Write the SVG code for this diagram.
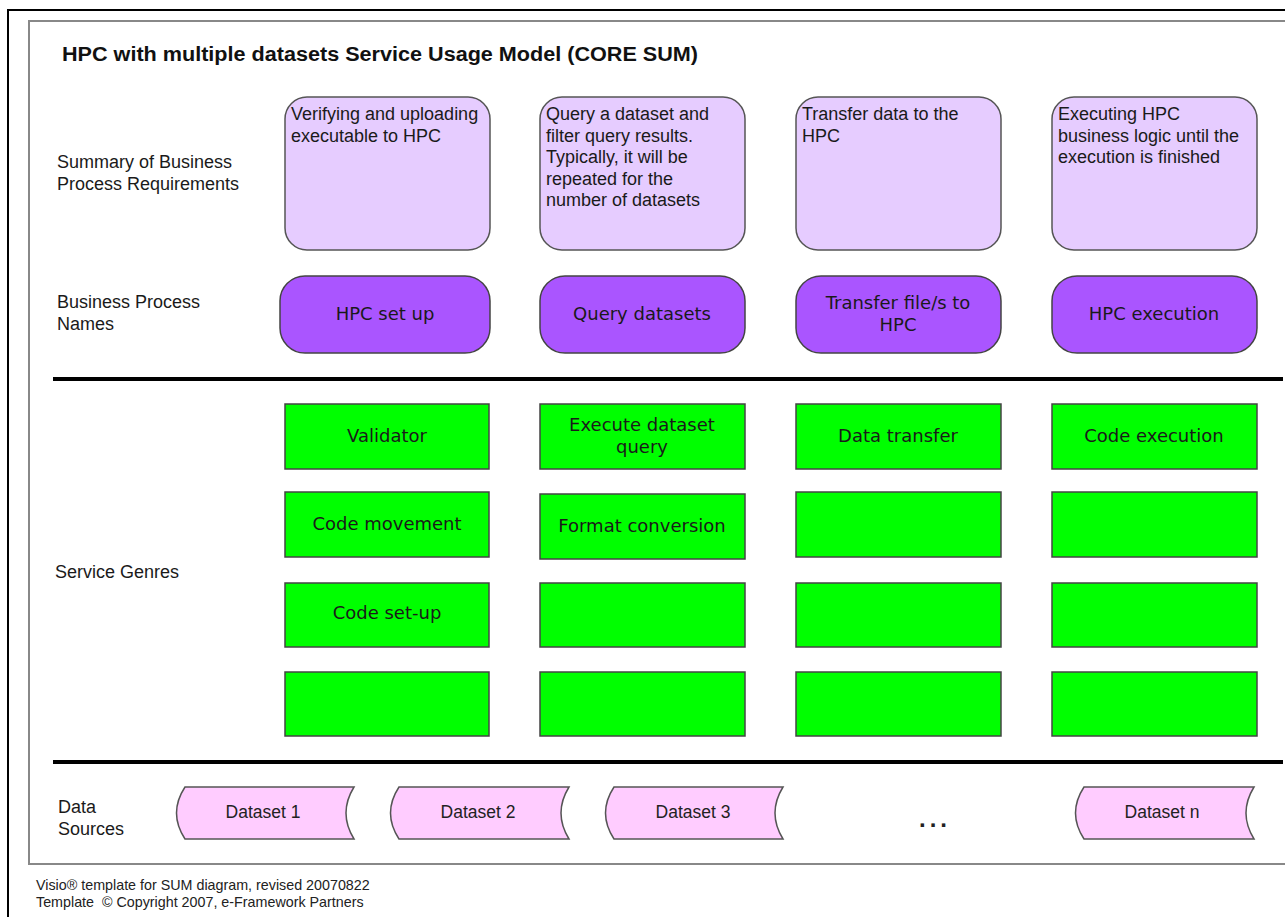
<svg xmlns="http://www.w3.org/2000/svg" width="1285" height="917" viewBox="0 0 1285 917">
<style>
.lbl{font-family:"Liberation Sans",Arial,sans-serif;font-size:18px;fill:#1a1a1a}
.title{font-family:"Liberation Sans",Arial,sans-serif;font-size:20px;font-weight:bold;fill:#111}
.foot{font-family:"Liberation Sans",Arial,sans-serif;font-size:14.3px;fill:#222}
.vd{font-family:"DejaVu Sans",Verdana,sans-serif;font-size:18px;fill:#1a1a1a;text-anchor:middle}
.ds{font-family:"Liberation Sans",Arial,sans-serif;font-size:17.5px;fill:#222;text-anchor:middle}
.sum{fill:#e6ccff;stroke:#555;stroke-width:1.5}
.proc{fill:#aa55ff;stroke:#444;stroke-width:1.5}
.gen{fill:#00ff00;stroke:#444;stroke-width:1.5}
.data{fill:#ffccff;stroke:#555;stroke-width:1.5}
.sep{stroke:#000;stroke-width:4}
</style>
<rect x="8" y="10" width="1290" height="920" fill="#fff" stroke="#000" stroke-width="2"/>
<rect x="29" y="21" width="1270" height="843" fill="#fff" stroke="#888" stroke-width="2"/>
<text class="title" x="62" y="61" textLength="636" lengthAdjust="spacingAndGlyphs">HPC with multiple datasets Service Usage Model (CORE SUM)</text>
<g id="row-labels">
<text class="lbl" x="57" y="168">Summary of Business</text>
<text class="lbl" x="57" y="189.5">Process Requirements</text>
<text class="lbl" x="57" y="308">Business Process</text>
<text class="lbl" x="57" y="330">Names</text>
<text class="lbl" x="55" y="578">Service Genres</text>
<text class="lbl" x="58" y="813">Data</text>
<text class="lbl" x="58" y="835">Sources</text>
</g>
<g id="connectors">
<line class="sep" x1="53" y1="379" x2="1283" y2="379"/>
<line class="sep" x1="53" y1="762" x2="1283" y2="762"/>
</g>
<g id="sum1"><rect class="sum" x="285" y="97" width="205" height="153" rx="22"/>
<text class="lbl" x="291" y="120">Verifying and uploading</text><text class="lbl" x="291" y="141.5">executable to HPC</text></g>
<g id="sum2"><rect class="sum" x="540" y="97" width="205" height="153" rx="22"/>
<text class="lbl" x="546" y="120">Query a dataset and</text><text class="lbl" x="546" y="141.5">filter query results.</text><text class="lbl" x="546" y="163">Typically, it will be</text><text class="lbl" x="546" y="184.5">repeated for the</text><text class="lbl" x="546" y="206">number of datasets</text></g>
<g id="sum3"><rect class="sum" x="796" y="97" width="205" height="153" rx="22"/>
<text class="lbl" x="802" y="120">Transfer data to the</text><text class="lbl" x="802" y="141.5">HPC</text></g>
<g id="sum4"><rect class="sum" x="1052" y="97" width="205" height="153" rx="22"/>
<text class="lbl" x="1058" y="120">Executing HPC</text><text class="lbl" x="1058" y="141.5">business logic until the</text><text class="lbl" x="1058" y="163">execution is finished</text></g>
<g id="proc1"><rect class="proc" x="280" y="276" width="210" height="77" rx="25"/><text class="vd" x="385" y="320">HPC set up</text></g>
<g id="proc2"><rect class="proc" x="540" y="276" width="205" height="77" rx="25"/><text class="vd" x="642" y="320">Query datasets</text></g>
<g id="proc3"><rect class="proc" x="796" y="276" width="205" height="77" rx="25"/><text class="vd" x="898" y="309">Transfer file/s to</text><text class="vd" x="898" y="331">HPC</text></g>
<g id="proc4"><rect class="proc" x="1052" y="276" width="205" height="77" rx="25"/><text class="vd" x="1154" y="320">HPC execution</text></g>
<g id="g11"><rect class="gen" x="285" y="404" width="204" height="65"/><text class="vd" x="387" y="442">Validator</text></g>
<g id="g12"><rect class="gen" x="540" y="404" width="205" height="65"/><text class="vd" x="642" y="431">Execute dataset</text><text class="vd" x="642" y="453">query</text></g>
<g id="g13"><rect class="gen" x="796" y="404" width="205" height="65"/><text class="vd" x="898" y="442">Data transfer</text></g>
<g id="g14"><rect class="gen" x="1052" y="404" width="205" height="65"/><text class="vd" x="1154" y="442">Code execution</text></g>
<g id="g21"><rect class="gen" x="285" y="492" width="204" height="65"/><text class="vd" x="387" y="530">Code movement</text></g>
<g id="g22"><rect class="gen" x="540" y="494" width="205" height="65"/><text class="vd" x="642" y="532">Format conversion</text></g>
<g id="g23"><rect class="gen" x="796" y="492" width="205" height="65"/></g>
<g id="g24"><rect class="gen" x="1052" y="492" width="205" height="65"/></g>
<g id="g31"><rect class="gen" x="285" y="583" width="204" height="64"/><text class="vd" x="387" y="619">Code set-up</text></g>
<g id="g32"><rect class="gen" x="540" y="583" width="205" height="64"/></g>
<g id="g33"><rect class="gen" x="796" y="583" width="205" height="64"/></g>
<g id="g34"><rect class="gen" x="1052" y="583" width="205" height="64"/></g>
<g id="g41"><rect class="gen" x="285" y="672" width="204" height="64"/></g>
<g id="g42"><rect class="gen" x="540" y="672" width="205" height="64"/></g>
<g id="g43"><rect class="gen" x="796" y="672" width="205" height="64"/></g>
<g id="g44"><rect class="gen" x="1052" y="672" width="205" height="64"/></g>
<g id="ds1"><path class="data" d="M185,787 L354,787 Q338,813 354,839 L185,839 Q168,813 185,787 Z"/><text class="ds" x="263" y="818">Dataset 1</text></g>
<g id="ds2"><path class="data" d="M399,787 L569,787 Q553,813 569,839 L399,839 Q382,813 399,787 Z"/><text class="ds" x="478" y="818">Dataset 2</text></g>
<g id="ds3"><path class="data" d="M614,787 L783,787 Q767,813 783,839 L614,839 Q597,813 614,787 Z"/><text class="ds" x="693" y="818">Dataset 3</text></g>
<g id="dsn"><path class="data" d="M1084,787 L1254,787 Q1238,813 1254,839 L1084,839 Q1067,813 1084,787 Z"/><text class="ds" x="1162" y="818">Dataset n</text></g>
<text x="935" y="827" font-family="'Liberation Sans',Arial,sans-serif" font-size="24" font-weight="bold" letter-spacing="4" text-anchor="middle" fill="#222">...</text>
<text class="foot" x="36" y="890">Visio® template for SUM diagram, revised 20070822</text>
<text class="foot" x="36" y="907" xml:space="preserve">Template  © Copyright 2007, e-Framework Partners</text>
</svg>
